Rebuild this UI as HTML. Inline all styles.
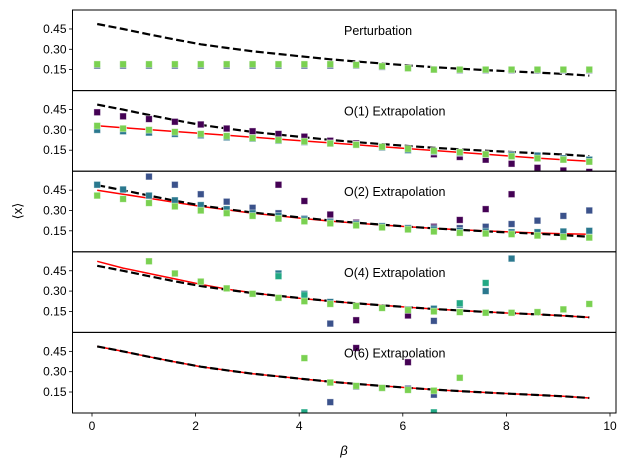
<!DOCTYPE html>
<html><head><meta charset="utf-8"><style>body{margin:0;background:#fff}svg{display:block;font-family:"Liberation Sans","DejaVu Sans",sans-serif}</style></head>
<body>
<svg id="chart" width="629" height="470" xmlns="http://www.w3.org/2000/svg"></svg>
<script>
const betas=[0.1,0.6,1.1,1.6,2.1,2.6,3.1,3.6,4.1,4.6,5.1,5.6,6.1,6.6,7.1,7.6,8.1,8.6,9.1,9.6];
const panelTitles=["Perturbation","O(1) Extrapolation","O(2) Extrapolation","O(4) Extrapolation","O(6) Extrapolation"];
const yTicks=[0.15,0.30,0.45];
const yTickLabels=["0.15","0.30","0.45"];
const xTicks=[0,2,4,6,8,10];
const exactLine=[0.487,0.45,0.41,0.372,0.337,0.31,0.285,0.265,0.245,0.226,0.21,0.195,0.181,0.168,0.157,0.146,0.137,0.128,0.118,0.106];
const fitO1=[0.33,0.316,0.302,0.288,0.274,0.26,0.246,0.232,0.218,0.204,0.19,0.176,0.162,0.148,0.134,0.12,0.106,0.092,0.08,0.068];
const fitO2=[0.45,0.42,0.39,0.36,0.33,0.305,0.28,0.26,0.24,0.222,0.207,0.193,0.18,0.168,0.158,0.149,0.141,0.134,0.128,0.124];
const fitO4=[0.52,0.47,0.43,0.39,0.35,0.315,0.287,0.263,0.243,0.225,0.209,0.195,0.181,0.168,0.157,0.146,0.137,0.128,0.118,0.106];
const fitO6=exactLine;
const colors=["#440154","#3b528b","#2a788e","#22a884","#7ad151"];
const pertPurple=[0.18,0.18,0.18,0.18,0.18,0.18,0.18,0.18,0.18,0.18,0.18,0.17,0.16,0.15,0.145,0.145,0.145,0.145,0.145,0.145];
const pertGreen=[0.19,0.19,0.19,0.19,0.19,0.19,0.19,0.19,0.19,0.19,0.185,0.175,0.16,0.15,0.15,0.15,0.15,0.15,0.15,0.15];
const o1Purple=[0.43,0.40,0.38,0.36,0.34,0.31,0.29,0.27,0.25,0.22,0.20,0.17,0.15,0.12,0.10,0.08,0.05,0.02,0.0,-0.01];
const o1Blue=[0.30,0.29,0.28,0.27,0.26,0.245,0.235,0.22,0.21,0.20,0.19,0.17,0.15,0.14,0.13,0.12,0.115,0.11,0.09,0.08];
const o1Green=[0.33,0.31,0.30,0.285,0.27,0.255,0.24,0.225,0.215,0.20,0.19,0.175,0.16,0.145,0.135,0.12,0.105,0.09,0.08,0.065];
const o2Purple=[null,null,null,null,null,null,null,0.49,0.37,0.27,0.21,0.18,0.17,0.18,0.23,0.31,0.42,null,null,null];
const o2Blue=[null,null,0.55,0.49,0.42,0.365,0.32,0.28,0.24,0.22,0.20,0.18,0.17,0.17,0.17,0.18,0.20,0.225,0.26,0.30];
const o2Teal=[0.49,0.455,0.41,0.375,0.34,0.31,0.28,0.26,0.235,0.215,0.2,0.185,0.17,0.16,0.15,0.145,0.14,0.14,0.145,0.15];
const o2Green=[0.41,0.385,0.355,0.33,0.30,0.28,0.26,0.24,0.22,0.205,0.19,0.175,0.16,0.145,0.135,0.13,0.125,0.115,0.105,0.10];
const o4Purple=[null,null,null,null,null,null,null,null,null,null,0.085,null,0.12,null,null,null,null,null,null,null];
const o4Blue=[null,null,null,null,null,null,null,null,null,0.06,null,null,null,0.08,null,null,null,null,null,null];
const o4Teal=[null,null,null,null,null,null,null,0.43,0.28,0.22,null,null,0.165,0.17,0.20,0.30,0.54,null,null,null];
const o4Teal2=[null,null,null,null,null,null,null,0.41,0.27,null,null,null,null,null,0.21,0.36,null,null,null,null];
const o4Green=[null,null,0.52,0.43,0.37,0.32,0.28,0.25,0.225,0.205,0.19,0.175,0.16,0.15,0.145,0.14,0.14,0.145,0.165,0.205];
const o6Purple=[null,null,null,null,null,null,null,null,null,null,0.475,null,0.37,null,null,null,null,null,null,null];
const o6Blue=[null,null,null,null,null,null,null,null,null,0.075,0.19,0.18,0.175,0.13,null,null,null,null,null,null];
const o6Teal=[null,null,null,null,null,null,null,null,0.0,null,null,null,null,0.0,null,null,null,null,null,null];
const o6Green=[null,null,null,null,null,null,null,null,0.40,0.22,0.195,0.18,0.165,0.16,0.255,null,null,null,null,null];

const panels=[
 {fit:null,series:[[pertPurple,1],[pertGreen,4]]},
 {fit:fitO1,series:[[o1Purple,0],[o1Blue,1],[o1Blue,2],[o1Green,4]]},
 {fit:fitO2,series:[[o2Purple,0],[o2Blue,1],[o2Teal,2],[o2Green,4]]},
 {fit:fitO4,series:[[o4Purple,0],[o4Blue,1],[o4Teal,2],[o4Teal2,3],[o4Green,4]]},
 {fit:fitO6,series:[[o6Purple,0],[o6Blue,1],[o6Teal,3],[o6Green,4]]}
];
const NS="http://www.w3.org/2000/svg";
const svg=document.getElementById('chart');
const L=72.5,R=616,T=10,PH=80.6;
const YMIN=-0.005,YMAX=0.59;
function xs(b){return 92+51.8*b;}
function ys(v,i){const top=T+i*PH;return top+PH-(v-YMIN)/(YMAX-YMIN)*PH;}
function mk(tag,attrs,parent){const e=document.createElementNS(NS,tag);for(const k in attrs)e.setAttribute(k,attrs[k]);(parent||svg).appendChild(e);return e;}
panels.forEach((p,i)=>{
 const top=T+i*PH;
 const g=mk('g',{});
 
 
 const cid='clip'+i;
 const cp=mk('clipPath',{id:cid},g);mk('rect',{x:L,y:top,width:R-L,height:PH},cp);
 const pg=mk('g',{'clip-path':'url(#'+cid+')'},g);
 if(p.fit){const d=betas.map((b,j)=>(j?'L':'M')+xs(b).toFixed(1)+','+ys(p.fit[j],i).toFixed(1)).join('');
  const fl=mk('path',{d:d,fill:'none',stroke:'#ff0000','stroke-width':1.5},pg);
  
  }
 const dd=betas.map((b,j)=>(j?'L':'M')+xs(b).toFixed(1)+','+ys(exactLine[j],i).toFixed(1)).join('');
 const el=mk('path',{d:dd,fill:'none',stroke:'#000','stroke-width':2.2,'stroke-dasharray':'8,3.5'},pg);
 
 
 p.series.forEach(([vals,ci])=>{vals.forEach((v,j)=>{if(v===null)return;
  const r=mk('rect',{x:xs(betas[j])-3.3,y:ys(v,i)-3.3,width:6.6,height:6.6,fill:colors[ci],stroke:'rgba(255,255,255,0.5)','stroke-width':0.8},pg);
  
  });});
 const fr=mk('rect',{x:L,y:top,width:R-L,height:PH,fill:'none',stroke:'#000','stroke-width':1},g);
 
 
 yTicks.forEach((t,k)=>{const y=ys(t,i);mk('line',{x1:L-3.5,x2:L,y1:y,y2:y,stroke:'#000','stroke-width':0.8},g);
  const tx=mk('text',{x:L-6,y:y+4,'font-size':12,'text-anchor':'end',fill:'#000'},g);tx.textContent=yTickLabels[k];
  
  });
 const tt=mk('text',{x:344,y:top+25,'font-size':12.5,fill:'#000'},g);tt.textContent=panelTitles[i];
 
 
});
const bottom=T+5*PH;
xTicks.forEach(t=>{const x=xs(t);mk('line',{x1:x,x2:x,y1:bottom,y2:bottom+3.5,stroke:'#000','stroke-width':0.8});
 const tx=mk('text',{x:x,y:bottom+17,'font-size':12,'text-anchor':'middle',fill:'#000'});tx.textContent=String(t);
 
 });
const xl=mk('text',{x:344,y:455,'font-size':13,'font-style':'italic','text-anchor':'middle'});xl.textContent='β';


const yl=mk('text',{x:22,y:211,'font-size':13,'text-anchor':'middle',transform:'rotate(-90 22 211)'});yl.textContent='⟨x⟩';


</script>
</body></html>
